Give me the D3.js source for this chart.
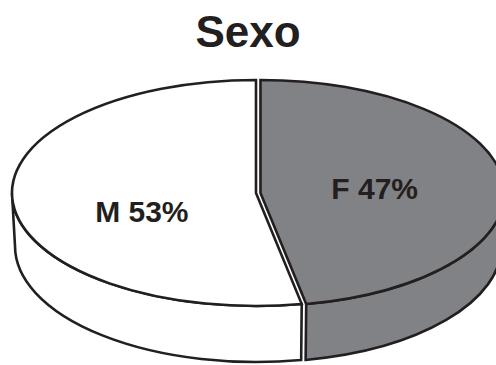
<!DOCTYPE html>
<html>
<head>
<meta charset="utf-8">
<script src="https://cdn.jsdelivr.net/npm/d3@7"></script>
<style>
  body { margin: 0; background: #fff; }
  svg { display: block; }
</style>
</head>
<body>
<div id="chart"></div>
<script>
// chart data
const title = "Sexo";
const categories = ["F", "M"];
const values = [47, 53];
const percentLabels = ["47%", "53%"];

const width = 496, height = 365;
// top ellipse
const cx = 256, cy = 193, rx = 244, ry = 113;
// bottom ellipse (a little perspective)
const cyb = 246, rxb = 241, ryb = 116;
const explode = [4.5, 0];
const fills = { F: "#808285", M: "#ffffff" };
const ink = "#231f20";

const svg = d3.select("#chart").append("svg")
  .attr("width", width).attr("height", height);

svg.append("text")
  .attr("x", 248).attr("y", 47)
  .attr("text-anchor", "middle")
  .style("font-family", "'Liberation Sans', Arial, sans-serif")
  .style("font-weight", "bold")
  .style("font-size", "44px")
  .attr("fill", ink)
  .text(title);

const data = categories.map((c, i) => ({ cat: c, value: values[i], label: percentLabels[i] }));
const pie = d3.pie().sort(null).value(d => d.value);
const slices = pie(data);

// angle 0 = top, clockwise
const pt = (a, dx, dy) => [cx + dx + rx * Math.sin(a), cy + dy - ry * Math.cos(a)];
const ptb = (a, dx, dy) => [cx + dx + rxb * Math.sin(a), cyb + dy - ryb * Math.cos(a)];

slices.forEach(s => {
  const mid = (s.startAngle + s.endAngle) / 2;
  s.dx = s.data.cat === "F" ? explode[0] * Math.sin(mid) : 0;
  s.dy = s.data.cat === "F" ? -explode[1] * Math.cos(mid) : 0;
});

function wallPath(s) {
  const a0 = Math.max(s.startAngle, Math.PI / 2);
  const a1 = Math.min(s.endAngle, 3 * Math.PI / 2);
  if (a1 <= a0) return null;
  const p0 = pt(a0, s.dx, s.dy), p1 = pt(a1, s.dx, s.dy);
  const q0 = ptb(a0, s.dx, s.dy), q1 = ptb(a1, s.dx, s.dy);
  const large = (a1 - a0) > Math.PI ? 1 : 0;
  return `M${p0[0]},${p0[1]} A${rx},${ry} 0 ${large} 1 ${p1[0]},${p1[1]}` +
    ` L${q1[0]},${q1[1]} A${rxb},${ryb} 0 ${large} 0 ${q0[0]},${q0[1]} Z`;
}

function topPath(s) {
  const c = [cx + s.dx, cy + s.dy];
  const p0 = pt(s.startAngle, s.dx, s.dy), p1 = pt(s.endAngle, s.dx, s.dy);
  const large = (s.endAngle - s.startAngle) > Math.PI ? 1 : 0;
  return `M${c[0]},${c[1]} L${p0[0]},${p0[1]} A${rx},${ry} 0 ${large} 1 ${p1[0]},${p1[1]} Z`;
}

const pieG = svg.append("g");

pieG.selectAll("path.wall")
  .data(slices.filter(s => wallPath(s)))
  .join("path")
  .attr("class", "wall")
  .attr("d", wallPath)
  .attr("fill", d => fills[d.data.cat])
  .attr("stroke", ink)
  .attr("stroke-width", 2.6)
  .attr("stroke-linejoin", "miter");

pieG.selectAll("path.top")
  .data(slices)
  .join("path")
  .attr("class", "top")
  .attr("d", topPath)
  .attr("fill", d => fills[d.data.cat])
  .attr("stroke", ink)
  .attr("stroke-width", 2.6)
  .attr("stroke-linejoin", "miter");

const labelR = 0.47;
pieG.selectAll("text.lbl")
  .data(slices)
  .join("text")
  .attr("class", "lbl")
  .attr("x", d => {
    const m = (d.startAngle + d.endAngle) / 2;
    return cx + d.dx + rx * labelR * Math.sin(m);
  })
  .attr("y", d => {
    const m = (d.startAngle + d.endAngle) / 2;
    const y = cy + d.dy - ry * labelR * Math.cos(m);
    return y + (m > Math.PI ? 24 : 11);
  })
  .attr("text-anchor", "middle")
  .style("font-family", "'Liberation Sans', Arial, sans-serif")
  .style("font-weight", "bold")
  .style("font-size", "30px")
  .attr("fill", ink)
  .text(d => `${d.data.cat} ${d.data.label}`);
</script>
</body>
</html>
